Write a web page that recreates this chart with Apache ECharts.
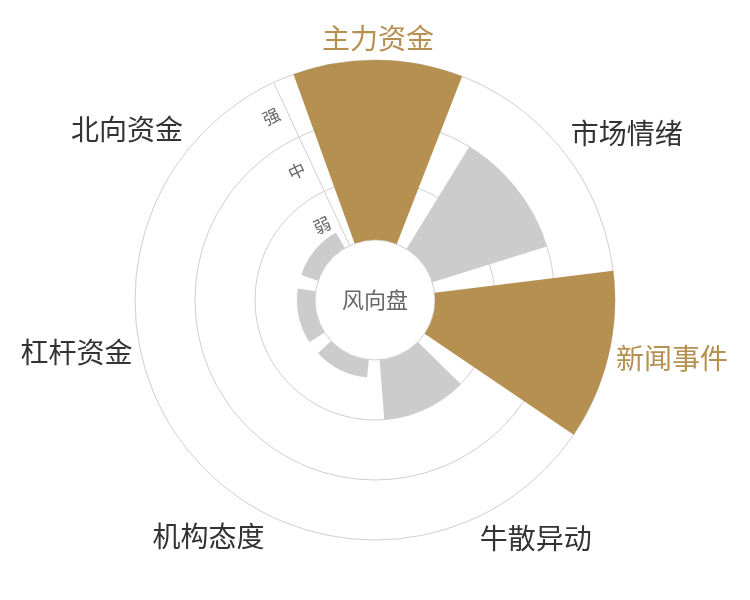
<!DOCTYPE html>
<html>
<head>
<meta charset="utf-8">
<script src="https://cdn.jsdelivr.net/npm/echarts@6/dist/echarts.min.js"></script>
<style>
  html, body { margin: 0; padding: 0; background: #fff; }
  #chart { width: 750px; height: 600px; }
</style>
</head>
<body>
<div id="chart"></div>
<script>
const categories = ['主力资金', '市场情绪', '新闻事件', '牛散异动', '机构态度', '杠杆资金', '北向资金'];
const values = [3, 2, 3, 1, 0.3, 0.3, 0.3];
const highlighted = [true, false, true, false, false, false, false];
const levels = ['弱', '中', '强'];
const centerLabel = '风向盘';

const BROWN = '#b59051';
const GRAY = '#cccccc';
const LINE = '#cfcfcf';
const startAngle = 115;

const chart = echarts.init(document.getElementById('chart'));
chart.setOption({
  backgroundColor: '#fff',
  textStyle: { fontFamily: 'Noto Sans CJK SC' },
  title: {
    text: centerLabel,
    left: 'center',
    top: 'middle',
    textStyle: { fontSize: 22, color: '#666', fontWeight: 'normal', fontFamily: 'Noto Sans CJK SC' }
  },
  polar: [
    { center: ['50%', '50%'], radius: [60, 240] },
    { center: ['50%', '50%'], radius: [60, 240] }
  ],
  angleAxis: [
    {
      polarIndex: 0,
      type: 'category',
      data: categories.map((c, i) => ({
        value: c,
        textStyle: { color: highlighted[i] ? BROWN : '#333' }
      })),
      startAngle: startAngle,
      clockwise: true,
      axisLine: { show: false },
      axisTick: { show: false },
      splitLine: { show: false },
      axisLabel: { fontSize: 28, margin: 8, fontFamily: 'Noto Sans CJK SC' }
    },
    {
      polarIndex: 1,
      type: 'category',
      data: categories,
      startAngle: startAngle,
      clockwise: true,
      axisLine: { show: false },
      axisTick: { show: false },
      splitLine: { show: false },
      axisLabel: { show: false }
    }
  ],
  radiusAxis: [
    {
      polarIndex: 0,
      type: 'value',
      min: 0,
      max: 3,
      interval: 1,
      axisLine: { show: false },
      axisTick: { show: false },
      axisLabel: { show: false },
      splitLine: { show: true, lineStyle: { color: LINE, width: 1 } }
    },
    {
      polarIndex: 1,
      type: 'category',
      data: levels,
      axisLine: { show: true, lineStyle: { color: LINE, width: 1 } },
      axisTick: { show: false },
      splitLine: { show: false },
      axisLabel: { rotate: 25, color: '#666', fontSize: 17, margin: 8 }
    }
  ],
  series: [
    {
      type: 'bar',
      coordinateSystem: 'polar',
      polarIndex: 0,
      barCategoryGap: '20%',
      z: 3,
      data: values.map((v, i) => ({
        value: v,
        itemStyle: { color: highlighted[i] ? BROWN : GRAY }
      }))
    }
  ]
});
</script>
</body>
</html>
